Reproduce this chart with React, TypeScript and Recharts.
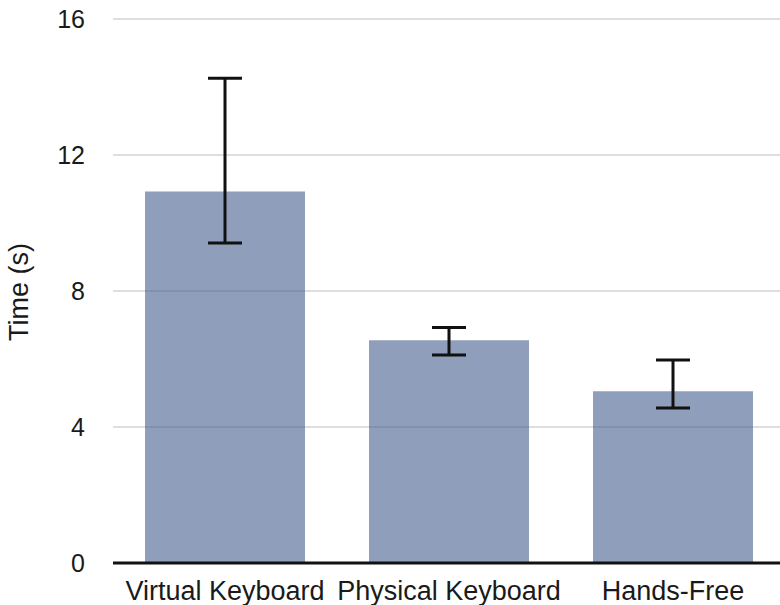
import React from "react";
import { BarChart, Bar, XAxis, YAxis, CartesianGrid, ErrorBar, Label } from "recharts";

// Mean completion time per input method, with lower / upper error bounds
const categories: string[] = ["Virtual Keyboard", "Physical Keyboard", "Hands-Free"];
const meanTimes: number[] = [10.93, 6.55, 5.05];
const lowerBounds: number[] = [9.41, 6.12, 4.56];
const upperBounds: number[] = [14.26, 6.93, 5.97];
const yTicks: number[] = [0, 4, 8, 12, 16];

// Recharts ErrorBar takes [down, up] offsets relative to the bar value
const rows = categories.map((name, i) => ({
  name,
  time: meanTimes[i],
  err: [meanTimes[i] - lowerBounds[i], upperBounds[i] - meanTimes[i]],
}));

const FONT = "'Liberation Sans', Arial, Helvetica, sans-serif";

export default function App() {
  return (
    <div
      style={{
        position: "absolute",
        left: 0,
        top: 0,
        width: 780,
        height: 605,
        overflow: "hidden",
        background: "#ffffff",
      }}
    >
      <BarChart
        width={786}
        height={605}
        data={rows}
        margin={{ top: 19, right: 1, bottom: 0, left: 0 }}
        style={{ fontFamily: FONT }}
      >
        <CartesianGrid vertical={false} stroke="#bdbdbd" strokeWidth={1} />
        <YAxis
          width={113}
          domain={[0, 16]}
          ticks={yTicks}
          interval={0}
          axisLine={false}
          tickLine={false}
          tickSize={9}
          tickMargin={19}
          tick={{ fill: "#1a1a1a", fontSize: 25, fontFamily: FONT }}
        >
          <Label
            value="Time (s)"
            angle={-90}
            position="center"
            dx={-38}
            dy={1}
            style={{ fill: "#1a1a1a", fontSize: 27, fontFamily: FONT }}
          />
        </YAxis>
        <XAxis
          dataKey="name"
          height={42}
          interval={0}
          axisLine={{ stroke: "#111111", strokeWidth: 3 }}
          tickLine={false}
          tickSize={6}
          tickMargin={12}
          tick={{ fill: "#1a1a1a", fontSize: 27, fontFamily: FONT }}
        />
        <Bar
          dataKey="time"
          barSize={160}
          fill="rgb(68,95,142)"
          fillOpacity={0.6}
          isAnimationActive={false}
        >
          <ErrorBar
            dataKey="err"
            width={17}
            stroke="#111111"
            strokeWidth={3}
            isAnimationActive={false}
          />
        </Bar>
      </BarChart>
    </div>
  );
}
